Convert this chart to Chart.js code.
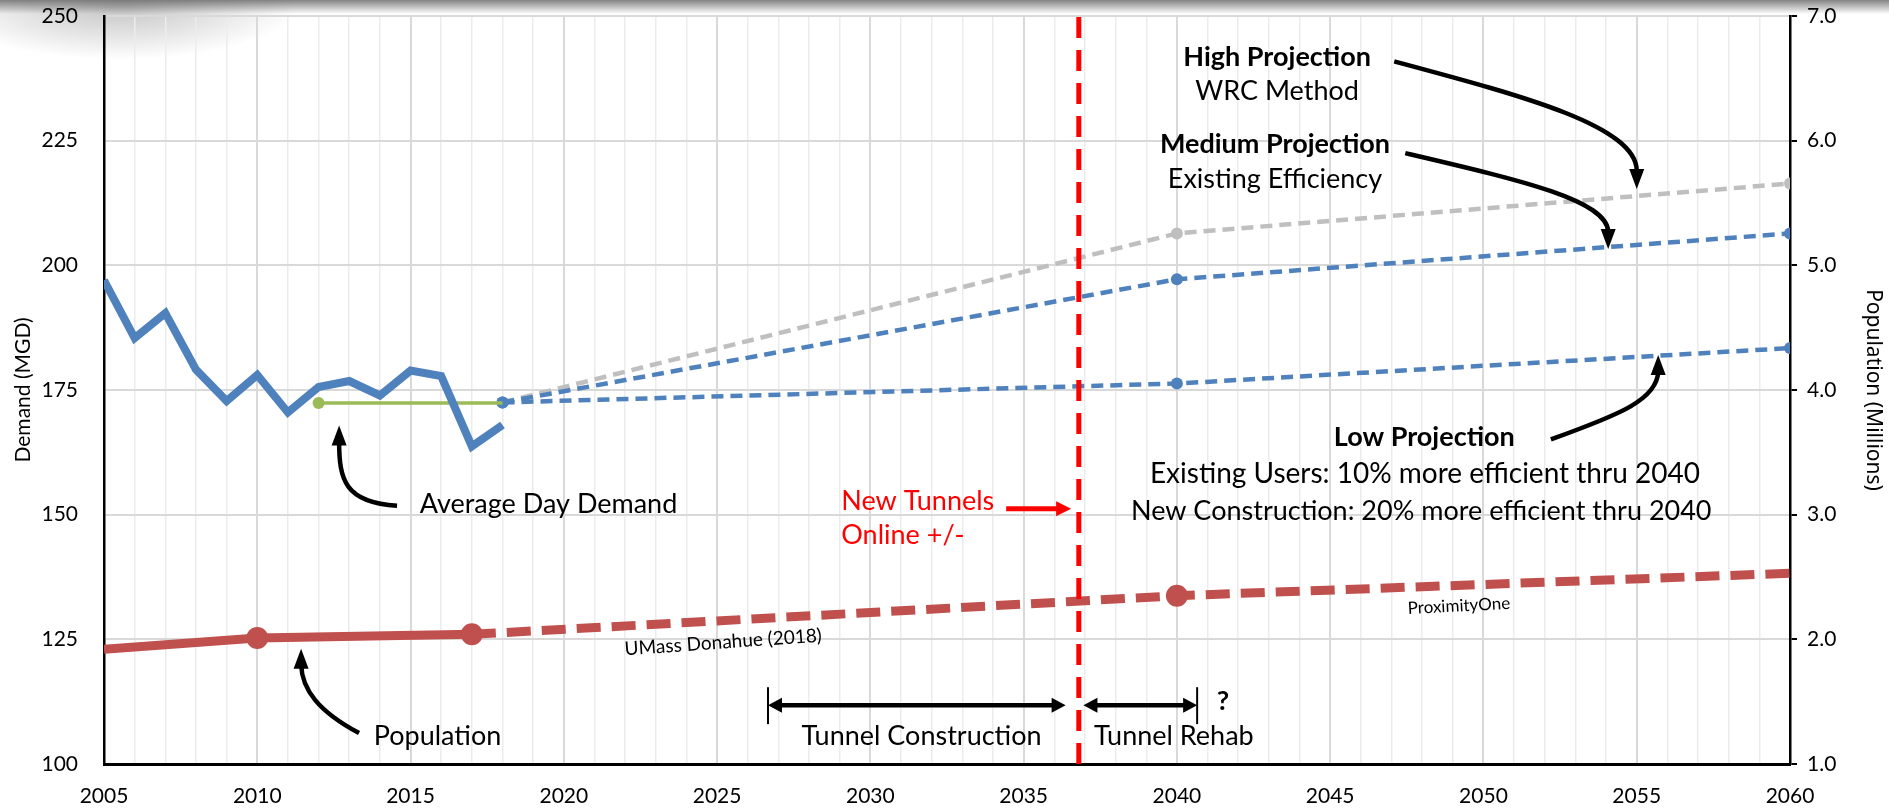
<!DOCTYPE html>
<html>
<head>
<meta charset="utf-8">
<script src="https://cdn.jsdelivr.net/npm/chart.js"></script>
<style>
  html, body { margin: 0; padding: 0; background: #fff; }
  #wrap { position: relative; width: 1889px; height: 809px; }
  #shade { position: absolute; left: 0; top: 0; width: 100%; height: 14px;
           background: linear-gradient(to bottom, rgba(110,110,110,0.85), rgba(255,255,255,0)); }
  #corner { position: absolute; left: -60px; top: -50px; width: 360px; height: 110px;
            background: radial-gradient(ellipse at center, rgba(120,120,120,0.45), rgba(255,255,255,0) 70%); }
  #demandChart { position: relative; z-index: 1; }
</style>
</head>
<body>
<div id="wrap">
  <div id="corner"></div>
  <div id="shade"></div>
  <canvas id="demandChart" width="1889" height="809"></canvas>
</div>
<script>
// --- data ---
const demandYears = [2005, 2006, 2007, 2008, 2009, 2010, 2011, 2012, 2013, 2014, 2015, 2016, 2017, 2018];
const demandMGD = [197, 185.4, 190.4, 179.1, 172.8, 178, 170.5, 175.6, 176.8, 173.9, 178.9, 177.8, 163.7, 168];

const avgYears = [2012, 2018];
const avgDemandMGD = [172.4, 172.4];

const projYears = [2018, 2040, 2060];
const highMGD = [172.5, 206.4, 216.4];
const mediumMGD = [172.5, 197.2, 206.4];
const lowMGD = [172.5, 176.3, 183.4];

const popYears = [2005, 2010, 2017];
const popMillions = [1.92, 2.01, 2.04];
const popProjYears = [2017, 2040, 2060];
const popProjMillions = [2.04, 2.35, 2.53];

const tunnelOnlineYear = 2036.8;

const demandTicks = [100, 125, 150, 175, 200, 225, 250];
const popTicks = [1.0, 2.0, 3.0, 4.0, 5.0, 6.0, 7.0];

const FONT = "Lato, 'Open Sans', sans-serif";
const BLUE = '#4f81bd';
const RED = '#c0504d';

function pts(xs, ys) {
    return xs.map((x, i) => ({ x: x, y: ys[i] }));
}

// notes, arrows and spans placed in chart units (year, MGD)
const notes = [
    { text: 'Average Day Demand', x: 2015.3, y: 152, align: 'left' },
    { text: 'Population', x: 2013.8, y: 105.6, align: 'left' },
    { text: 'New Tunnels', x: 2029.05, y: 152.6, align: 'left', color: '#ff0000' },
    { text: 'Online +/-', x: 2029.05, y: 145.8, align: 'left', color: '#ff0000' },
    { text: 'Tunnel Construction', x: 2031.67, y: 105.6 },
    { text: 'Tunnel Rehab', x: 2039.9, y: 105.6 },
    { text: '?', x: 2041.3, y: 112.6, align: 'left', bold: true },
    { text: 'High Projection', x: 2043.27, y: 241.7, bold: true },
    { text: 'WRC Method', x: 2043.27, y: 234.9 },
    { text: 'Medium Projection', x: 2043.2, y: 224.3, bold: true },
    { text: 'Existing Efficiency', x: 2043.2, y: 217.3 },
    { text: 'Low Projection', x: 2048.07, y: 165.5, bold: true },
    { text: 'Existing Users: 10% more efficient thru 2040', x: 2048.09, y: 158.1, size: 28 },
    { text: 'New Construction: 20% more efficient thru 2040', x: 2047.97, y: 150.7 },
    { text: 'UMass Donahue (2018)', x: 2025.2, y: 124.4, size: 19, rot: -4 },
    { text: 'ProximityOne', x: 2049.2, y: 131.7, size: 17, rot: -3 }
];

const curvedArrows = [
    { from: [2047.09, 240.9], c1: [2051.2, 234.1], c2: [2054.95, 228.1], to: [2055.0, 219.1], tip: [2055.0, 215.3] },
    { from: [2047.45, 222.5], c1: [2051.2, 217.1], c2: [2054.04, 213.1], to: [2054.07, 206.7], tip: [2054.07, 203.3] },
    { from: [2052.2, 165.1], c1: [2054.46, 170.1], c2: [2055.67, 173.1], to: [2055.7, 178.7], tip: [2055.7, 182.0] },
    { from: [2014.56, 151.8], c1: [2012.86, 152.4], c2: [2012.67, 157.0], to: [2012.67, 164.6], tip: [2012.67, 167.9] },
    { from: [2013.32, 106.2], c1: [2011.98, 110.6], c2: [2011.46, 115.0], to: [2011.43, 119.9], tip: [2011.43, 123.1] }
];

const spans = [
    { x1: 2026.66, x2: 2036.37, y: 111.8, tickLeft: true },
    { x1: 2036.95, x2: 2040.66, y: 111.8, tickRight: true }
];

function drawHead(ctx, tx, ty, angle, len, wid, color) {
    ctx.save();
    ctx.translate(tx, ty);
    ctx.rotate(angle);
    ctx.beginPath();
    ctx.moveTo(0, 0);
    ctx.lineTo(-len, -wid / 2);
    ctx.lineTo(-len, wid / 2);
    ctx.closePath();
    ctx.fillStyle = color;
    ctx.fill();
    ctx.restore();
}

const annotationPlugin = {
    id: 'annotations',
    afterDatasetsDraw(chart) {
        const ctx = chart.ctx;
        const sx = chart.scales.x, sy = chart.scales.y;
        const X = v => sx.getPixelForValue(v);
        const Y = v => sy.getPixelForValue(v);
        ctx.save();

        // curved black arrows
        curvedArrows.forEach(a => {
            ctx.beginPath();
            ctx.moveTo(X(a.from[0]), Y(a.from[1]));
            ctx.bezierCurveTo(X(a.c1[0]), Y(a.c1[1]), X(a.c2[0]), Y(a.c2[1]), X(a.to[0]), Y(a.to[1]));
            ctx.strokeStyle = '#000';
            ctx.lineWidth = 4.5;
            ctx.stroke();
            const ang = Math.atan2(Y(a.tip[1]) - Y(a.to[1]), X(a.tip[0]) - X(a.to[0]));
            drawHead(ctx, X(a.tip[0]), Y(a.tip[1]), ang, 20, 15, '#000');
        });

        // red "online" arrow
        const ry = Y(151.2);
        ctx.beginPath();
        ctx.moveTo(X(2034.43), ry);
        ctx.lineTo(X(2036.1), ry);
        ctx.strokeStyle = '#ff0000';
        ctx.lineWidth = 5;
        ctx.stroke();
        drawHead(ctx, X(2036.55), ry, 0, 15, 15, '#ff0000');

        // tunnel construction / rehab spans
        spans.forEach(s => {
            const y = Y(s.y);
            const l = X(s.x1), r = X(s.x2);
            ctx.beginPath();
            ctx.moveTo(l + 10, y);
            ctx.lineTo(r - 10, y);
            ctx.strokeStyle = '#000';
            ctx.lineWidth = 4.5;
            ctx.stroke();
            drawHead(ctx, l, y, Math.PI, 14, 15, '#000');
            drawHead(ctx, r, y, 0, 14, 15, '#000');
            ctx.lineWidth = 2;
            if (s.tickLeft) {
                ctx.beginPath();
                ctx.moveTo(l, Y(s.y + 3.6));
                ctx.lineTo(l, Y(s.y - 3.8));
                ctx.stroke();
            }
            if (s.tickRight) {
                ctx.beginPath();
                ctx.moveTo(r, Y(s.y + 3.6));
                ctx.lineTo(r, Y(s.y - 3.8));
                ctx.stroke();
            }
        });

        // text notes
        notes.forEach(n => {
            ctx.save();
            ctx.translate(X(n.x), Y(n.y));
            if (n.rot) ctx.rotate(n.rot * Math.PI / 180);
            ctx.font = (n.bold ? 'bold ' : '') + (n.size || 27) + 'px ' + FONT;
            ctx.fillStyle = n.color || '#000';
            ctx.textAlign = n.align || 'center';
            ctx.textBaseline = 'middle';
            ctx.fillText(n.text, 0, 0);
            ctx.restore();
        });
        ctx.restore();
    }
};

// drop the label overhang so the plot area fills the frame like the original
function noOverhang(s) {
    s.paddingTop = 0;
    s.paddingBottom = 0;
    s.paddingLeft = 0;
    s.paddingRight = 0;
}

const projStyle = {
    borderWidth: 4.5,
    borderDash: [12, 7],
    pointRadius: 6,
    pointBorderWidth: 0,
    yAxisID: 'y',
    order: 3
};

new Chart(document.getElementById('demandChart').getContext('2d'), {
    type: 'line',
    data: {
        datasets: [
            {
                label: 'New Tunnels Online',
                data: pts([tunnelOnlineYear, tunnelOnlineYear], [100, 250]),
                borderColor: '#ff0000',
                borderWidth: 5,
                borderDash: [21, 12],
                pointRadius: 0,
                yAxisID: 'y',
                order: 0
            },
            {
                label: 'Population',
                data: pts(popYears, popMillions),
                borderColor: RED,
                backgroundColor: RED,
                borderWidth: 9,
                pointRadius: [0, 11, 11],
                pointBorderWidth: 0,
                yAxisID: 'y1',
                order: 1
            },
            {
                label: 'Population Projection',
                data: pts(popProjYears, popProjMillions),
                borderColor: RED,
                backgroundColor: RED,
                borderWidth: 9,
                borderDash: [24, 11],
                pointRadius: [0, 11, 0],
                pointBorderWidth: 0,
                yAxisID: 'y1',
                order: 1
            },
            {
                label: 'Average Day Demand',
                data: pts(demandYears, demandMGD),
                borderColor: BLUE,
                borderWidth: 8,
                pointRadius: 0,
                borderJoinStyle: 'miter',
                yAxisID: 'y',
                order: 2
            },
            {
                label: 'Average',
                data: pts(avgYears, avgDemandMGD),
                borderColor: '#9bbb59',
                backgroundColor: '#9bbb59',
                borderWidth: 3.5,
                pointRadius: [6, 0],
                pointBorderWidth: 0,
                yAxisID: 'y',
                order: 2
            },
            Object.assign({
                label: 'Low Projection',
                data: pts(projYears, lowMGD),
                borderColor: BLUE,
                backgroundColor: BLUE
            }, projStyle),
            Object.assign({
                label: 'Medium Projection',
                data: pts(projYears, mediumMGD),
                borderColor: BLUE,
                backgroundColor: BLUE
            }, projStyle),
            Object.assign({
                label: 'High Projection',
                data: pts(projYears, highMGD),
                borderColor: '#bfbfbf',
                backgroundColor: '#bfbfbf'
            }, projStyle)
        ]
    },
    options: {
        responsive: false,
        animation: false,
        layout: { padding: { top: 16, left: 0, right: 0, bottom: 0 } },
        plugins: {
            legend: { display: false },
            tooltip: { enabled: false }
        },
        scales: {
            x: {
                type: 'linear',
                min: 2005,
                max: 2060,
                afterFit: s => { s.height = 45; noOverhang(s); },
                afterBuildTicks: s => { s.ticks = []; for (let v = 2005; v <= 2060; v++) s.ticks.push({ value: v }); },
                ticks: {
                    autoSkip: false,
                    maxRotation: 0,
                    padding: 20,
                    color: '#000',
                    font: { family: FONT, size: 21 },
                    callback: v => (v % 5 === 0 ? String(v) : '')
                },
                grid: {
                    drawTicks: false,
                    color: c => (c.tick && c.tick.value % 5 === 0 ? '#d9d9d9' : '#ececec'),
                    lineWidth: c => (c.tick && c.tick.value % 5 === 0 ? 2 : 1.5)
                },
                border: { color: '#000', width: 3 }
            },
            y: {
                position: 'left',
                min: 100,
                max: 250,
                afterFit: s => { s.width = 104; noOverhang(s); },
                afterBuildTicks: s => { s.ticks = demandTicks.map(v => ({ value: v })); },
                ticks: {
                    padding: 26,
                    color: '#000',
                    font: { family: FONT, size: 21 }
                },
                grid: { drawTicks: false, color: '#d9d9d9', lineWidth: 2 },
                border: { color: '#000', width: 2.5 },
                title: {
                    display: true,
                    text: 'Demand (MGD)',
                    color: '#000',
                    font: { family: FONT, size: 21 },
                    padding: { top: 11, bottom: 0 }
                }
            },
            y1: {
                position: 'right',
                min: 1,
                max: 7,
                afterFit: s => { s.width = 99; noOverhang(s); },
                afterBuildTicks: s => { s.ticks = popTicks.map(v => ({ value: v })); },
                ticks: {
                    padding: 10,
                    color: '#000',
                    font: { family: FONT, size: 21 },
                    callback: v => Number(v).toFixed(1)
                },
                grid: { drawOnChartArea: false, tickLength: 7, color: '#000', lineWidth: 2 },
                border: { color: '#000', width: 2.5 },
                title: {
                    display: true,
                    text: 'Population (Millions)',
                    color: '#000',
                    font: { family: "'Noto Sans', 'Open Sans', sans-serif", size: 21 },
                    padding: { top: 3, bottom: 0 }
                }
            }
        }
    },
    plugins: [annotationPlugin]
});
</script>
</body>
</html>
